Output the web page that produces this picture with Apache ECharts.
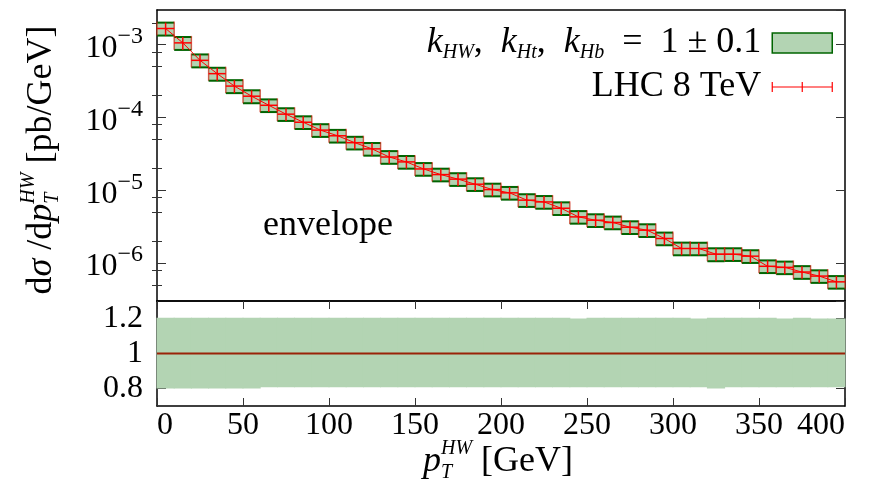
<!DOCTYPE html>
<html><head><meta charset="utf-8">
<script src="https://cdn.jsdelivr.net/npm/echarts@6.0.0/dist/echarts.min.js"></script>
<style>html,body{margin:0;padding:0;background:#fff;}#chart{width:879px;height:482px;}</style>
</head><body><div id="chart"></div>
<script>
// ---------------- data ----------------
const binLow = [0,10,20,30,40,50,60,70,80,90,100,110,120,130,140,150,160,170,180,190,200,210,220,230,240,250,260,270,280,290,300,310,320,330,340,350,360,370,380,390];
const binWidth = 10;
const central = [1.67e-3,1.06e-3,6.1e-4,4.0e-4,2.7e-4,1.96e-4,1.47e-4,1.11e-4,8.6e-5,6.7e-5,
                 5.6e-5,4.5e-5,3.7e-5,2.86e-5,2.45e-5,1.96e-5,1.64e-5,1.42e-5,1.21e-5,1.02e-5,
                 9.2e-6,7.3e-6,6.9e-6,5.65e-6,4.3e-6,3.87e-6,3.6e-6,3.1e-6,2.82e-6,2.17e-6,
                 1.58e-6,1.58e-6,1.32e-6,1.32e-6,1.24e-6,9.0e-7,8.7e-7,7.5e-7,6.6e-7,5.5e-7];
const ratioUp = [1.205,1.205,1.205,1.205,1.205,1.205,1.205,1.205,1.205,1.205,
                 1.205,1.205,1.205,1.205,1.205,1.205,1.205,1.205,1.205,1.205,
                 1.205,1.205,1.205,1.205,1.200,1.205,1.205,1.205,1.205,1.205,
                 1.205,1.200,1.205,1.205,1.205,1.205,1.200,1.205,1.200,1.200];
const ratioDown = [0.800,0.800,0.800,0.800,0.800,0.800,0.807,0.807,0.807,0.807,
                   0.807,0.807,0.807,0.807,0.807,0.807,0.807,0.807,0.807,0.807,
                   0.807,0.807,0.807,0.807,0.807,0.807,0.807,0.807,0.807,0.807,
                   0.807,0.807,0.800,0.807,0.807,0.807,0.807,0.807,0.807,0.807];
const xRange = [0, 400];
const xTickStep = 50;
const yRange = [3e-7, 3e-3];
const yMinorTicks = [5e-7,8e-7,2e-6,5e-6,8e-6,2e-5,5e-5,8e-5,2e-4,5e-4,8e-4,2e-3];
const ratioRange = [0.7, 1.3];
const ratioTicks = [0.8, 1, 1.2];
const ratioTickLabels = ['0.8', '1', '1.2'];
const legendNames = ['band', 'LHC 8 TeV'];

// ---------------- styles ----------------
const FF = '"Liberation Serif", "DejaVu Serif", serif';
const GREEN_FILL = '#b3d4b3';
const GREEN_DARK = '#006400';
const RED = '#ff0000';
const TICK_FS = 32;
const TITLE_FS = 36;
const LEG_FS = 36;

const measureCtx = document.createElement('canvas').getContext('2d');
function textW(t, font) { measureCtx.font = font; return measureCtx.measureText(t).width; }
function layoutPieces(list) {
  let x = 0, lastStart = 0; const out = [];
  list.forEach(p => {
    const px = p.stack ? lastStart : x;
    out.push({ type: 'text', x: px, y: p.dy || 0, silent: true,
      style: { text: p.t, font: p.f, fill: '#000', verticalAlign: 'middle', textVerticalAlign: 'middle', align: 'left', textAlign: 'left' } });
    if (!p.stack) { lastStart = x; x += textW(p.t, p.f); }
  });
  return { children: out, width: x };
}
const fUp = TITLE_FS + 'px ' + FF;
const fIt = 'italic ' + TITLE_FS + 'px ' + FF;
const fSm = 'italic 20px ' + FF;

const yTitle = layoutPieces([
  { t: 'd', f: fUp }, { t: 'σ', f: fIt }, { t: ' /d', f: fUp }, { t: 'p', f: fIt },
  { t: 'HW', f: fSm, dy: -13 }, { t: 'T', f: fSm, dy: 11, stack: true }, { t: ' [pb/GeV]', f: fUp }
]);
const xTitle = layoutPieces([
  { t: 'p', f: fIt }, { t: 'HW', f: fSm, dy: -13 }, { t: 'T', f: fSm, dy: 11, stack: true }, { t: ' [GeV]', f: fUp }
]);

const frameLine = { show: true, onZero: false, lineStyle: { color: '#000', width: 1.5 } };
const tickStyle = { color: '#333', width: 1 };

const chart = echarts.init(document.getElementById('chart'), null, { renderer: 'canvas' });

const option = {
  animation: false,
  backgroundColor: '#fff',
  grid: [
    { left: 157, right: 34, top: 10, height: 291, outerBoundsMode: 'none', containLabel: false },
    { left: 157, right: 34, top: 301, height: 105, outerBoundsMode: 'none', containLabel: false }
  ],
  xAxis: [
    { type: 'value', gridIndex: 0, min: xRange[0], max: xRange[1], interval: xTickStep, position: 'bottom',
      axisLine: frameLine, axisTick: { show: false }, axisLabel: { show: false }, splitLine: { show: false } },
    { type: 'value', gridIndex: 0, min: xRange[0], max: xRange[1], interval: xTickStep, position: 'top',
      axisLine: frameLine, axisTick: { show: false }, axisLabel: { show: false }, splitLine: { show: false } },
    { type: 'value', gridIndex: 1, min: xRange[0], max: xRange[1], interval: xTickStep, position: 'bottom',
      axisLine: frameLine, axisTick: { inside: true, length: 8, lineStyle: tickStyle },
      axisLabel: { margin: 4, fontFamily: FF, fontSize: TICK_FS, color: '#000', alignMinLabel: 'left', alignMaxLabel: 'right' },
      splitLine: { show: false } },
    { type: 'value', gridIndex: 1, min: xRange[0], max: xRange[1], interval: xTickStep, position: 'top',
      axisLine: frameLine, axisTick: { inside: true, length: 8, lineStyle: tickStyle },
      axisLabel: { show: false }, splitLine: { show: false } }
  ],
  yAxis: [
    { type: 'log', gridIndex: 0, min: yRange[0], max: yRange[1], position: 'left',
      axisLine: frameLine, axisTick: { inside: true, length: 9, lineStyle: tickStyle },
      axisLabel: { margin: 14, showMinLabel: false, showMaxLabel: false,
        formatter: v => { const e = Math.round(Math.log10(v)); return '{b|10}{s|−' + (-e) + '}'; },
        rich: { b: { fontFamily: FF, fontSize: TICK_FS, lineHeight: 40, verticalAlign: 'bottom', color: '#000' },
                s: { fontFamily: FF, fontSize: 24, lineHeight: 24, verticalAlign: 'top', color: '#000' } } },
      splitLine: { show: false } },
    { type: 'log', gridIndex: 0, min: yRange[0], max: yRange[1], position: 'right',
      axisLine: frameLine, axisTick: { inside: true, length: 9, lineStyle: tickStyle },
      axisLabel: { show: false }, splitLine: { show: false } },
    { type: 'value', gridIndex: 0, min: Math.log10(yRange[0]), max: Math.log10(yRange[1]), position: 'left',
      axisLine: { show: false }, axisTick: { inside: true, length: 5, lineStyle: tickStyle, customValues: yMinorTicks.map(Math.log10) },
      axisLabel: { show: false }, splitLine: { show: false } },
    { type: 'value', gridIndex: 0, min: Math.log10(yRange[0]), max: Math.log10(yRange[1]), position: 'right',
      axisLine: { show: false }, axisTick: { inside: true, length: 5, lineStyle: tickStyle, customValues: yMinorTicks.map(Math.log10) },
      axisLabel: { show: false }, splitLine: { show: false } },
    { type: 'value', gridIndex: 1, min: ratioRange[0], max: ratioRange[1], position: 'left',
      axisLine: frameLine, axisTick: { inside: true, length: 9, lineStyle: tickStyle, customValues: ratioTicks },
      axisLabel: { margin: 14, customValues: ratioTicks, fontFamily: FF, fontSize: TICK_FS, color: '#000',
        formatter: v => ratioTickLabels[ratioTicks.findIndex(t => Math.abs(t - v) < 1e-9)] },
      splitLine: { show: false } },
    { type: 'value', gridIndex: 1, min: ratioRange[0], max: ratioRange[1], position: 'right',
      axisLine: frameLine, axisTick: { inside: true, length: 9, lineStyle: tickStyle, customValues: ratioTicks },
      axisLabel: { show: false }, splitLine: { show: false } }
  ],
  legend: {
    orient: 'vertical', align: 'right', right: 46, top: 25, padding: 0, itemGap: 6,
    itemWidth: 60, itemHeight: 20, selectedMode: false,
    data: [
      { name: legendNames[0], icon: 'rect', itemStyle: { color: GREEN_FILL, borderColor: GREEN_DARK, borderWidth: 1.5 } },
      { name: legendNames[1], icon: 'path://M0,0L0,10M30,0L30,10M60,0L60,10M0,5L60,5',
        itemStyle: { color: 'rgba(0,0,0,0)', borderColor: RED, borderWidth: 1.2 } }
    ],
    formatter: name => name === legendNames[0]
      ? '{k|k}{sub|HW}{t|,  }{k|k}{sub|Ht}{t|,  }{k|k}{sub|Hb}{t|  =  1 ± 0.1}{g|}'
      : '{t|' + name + '}{g|}',
    textStyle: { color: '#000', fontFamily: FF, fontSize: LEG_FS,
      rich: {
        t: { fontFamily: FF, fontSize: LEG_FS, lineHeight: 40, color: '#000' },
        k: { fontFamily: FF, fontSize: LEG_FS, fontStyle: 'italic', lineHeight: 40, color: '#000' },
        sub: { fontFamily: FF, fontSize: 20, fontStyle: 'italic', lineHeight: 18, verticalAlign: 'bottom', color: '#000' },
        g: { width: 6 }
      } }
  },
  graphic: [
    { type: 'text', left: 263, top: 208, silent: true,
      style: { text: 'envelope', font: '36px ' + FF, fill: '#000' } },
    { type: 'group', x: 498 - xTitle.width / 2, y: 462, silent: true, children: xTitle.children },
    { type: 'group', x: 42, y: 160 + yTitle.width / 2, rotation: Math.PI / 2, silent: true, children: yTitle.children }
  ],
  series: [
    { type: 'custom', name: legendNames[0], xAxisIndex: 0, yAxisIndex: 0, z: 2, silent: true,
      data: binLow.map((x, i) => [x, x + binWidth, central[i] * ratioDown[i], central[i] * ratioUp[i]]),
      encode: { x: [0, 1], y: [2, 3] },
      renderItem: (params, api) => {
        const a = api.coord([api.value(0), api.value(3)]);
        const b = api.coord([api.value(1), api.value(2)]);
        return { type: 'group', children: [
          { type: 'rect', shape: { x: a[0], y: a[1], width: b[0] - a[0], height: b[1] - a[1] },
            style: { fill: GREEN_FILL, stroke: 'rgba(0,100,0,0.4)', lineWidth: 1 } },
          { type: 'line', shape: { x1: a[0], y1: a[1], x2: b[0], y2: a[1] }, style: { stroke: GREEN_DARK, lineWidth: 2 } },
          { type: 'line', shape: { x1: a[0], y1: b[1], x2: b[0], y2: b[1] }, style: { stroke: GREEN_DARK, lineWidth: 2 } }
        ] };
      } },
    { type: 'custom', name: legendNames[1], xAxisIndex: 0, yAxisIndex: 0, z: 3, silent: true,
      data: binLow.map((x, i) => [x, x + binWidth, central[i], central[i] * ratioDown[i], central[i] * ratioUp[i]]),
      encode: { x: [0, 1], y: [2, 3, 4] },
      renderItem: (params, api) => {
        const xl = api.value(0), xh = api.value(1), yc = api.value(2);
        const pl = api.coord([xl, yc]), ph = api.coord([xh, yc]);
        const pt = api.coord([(xl + xh) / 2, api.value(4)]), pb = api.coord([(xl + xh) / 2, api.value(3)]);
        const cap = 7;
        const st = { stroke: RED, lineWidth: 1.5 };
        const stCap = { stroke: 'rgba(255,0,0,0.5)', lineWidth: 1.5 };
        return { type: 'group', children: [
          { type: 'line', shape: { x1: pl[0], y1: pl[1], x2: ph[0], y2: ph[1] }, style: st },
          { type: 'line', shape: { x1: pl[0], y1: pl[1] - cap, x2: pl[0], y2: pl[1] + cap }, style: stCap },
          { type: 'line', shape: { x1: ph[0], y1: ph[1] - cap, x2: ph[0], y2: ph[1] + cap }, style: stCap },
          { type: 'line', shape: { x1: pt[0], y1: pt[1], x2: pb[0], y2: pb[1] }, style: st }
        ] };
      } },
    { type: 'line', name: 'centres', xAxisIndex: 0, yAxisIndex: 0, z: 4, silent: true,
      data: binLow.map((x, i) => [x + binWidth / 2, central[i]]),
      showSymbol: false, symbol: 'none', lineStyle: { color: RED, width: 1 } },
    { type: 'custom', name: 'ratioBand', xAxisIndex: 2, yAxisIndex: 4, z: 2, silent: true,
      data: binLow.map((x, i) => [x, x + binWidth, ratioDown[i], ratioUp[i]]),
      encode: { x: [0, 1], y: [2, 3] },
      renderItem: (params, api) => {
        const a = api.coord([api.value(0), api.value(3)]);
        const b = api.coord([api.value(1), api.value(2)]);
        return { type: 'rect', shape: { x: a[0] - 0.5, y: a[1], width: b[0] - a[0] + 1, height: b[1] - a[1] },
          style: { fill: GREEN_FILL } };
      } },
    { type: 'line', name: 'ratioCentral', xAxisIndex: 2, yAxisIndex: 4, z: 4, silent: true,
      data: binLow.flatMap((x, i) => [[x, central[i] / central[i]], [x + binWidth, central[i] / central[i]]]),
      showSymbol: false, symbol: 'none', lineStyle: { color: '#9a2208', width: 2 } }
  ]
};
chart.setOption(option);
</script></body></html>
